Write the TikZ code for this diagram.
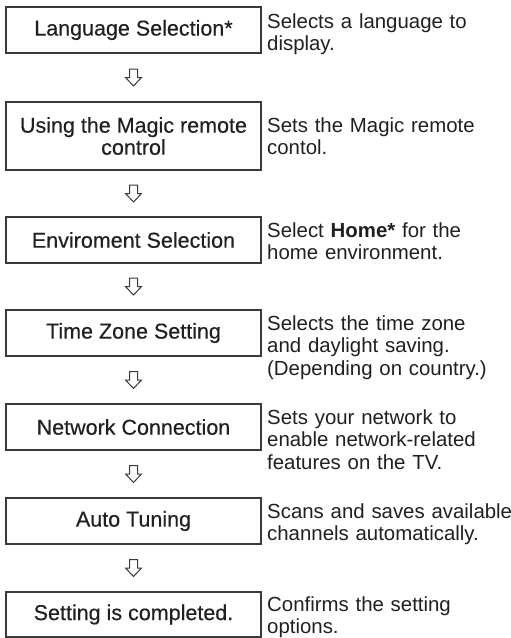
\documentclass[tikz,border=0pt]{standalone}
\usepackage{fontspec}
\setmainfont{Liberation Sans}
\newfontfamily\stepfont[FakeBold=0.35]{Liberation Sans}
\usetikzlibrary{calc}
\definecolor{boxgray}{HTML}{3A3A3A}
\definecolor{textgray}{HTML}{231F20}
\begin{document}
\begin{tikzpicture}[x=1pt,y=-1pt,
  stepbox/.style={draw=boxgray, line width=1.3pt, minimum width=255pt, minimum height=46pt,
    inner sep=0pt, align=center, font=\stepfont\fontsize{21.5}{22}\selectfont, text=textgray},
  desc/.style={anchor=base west, inner sep=0pt, text width=250pt, align=left,
    font=\fontsize{20.4}{22.5}\selectfont, text=textgray},
  arrline/.style={draw=boxgray, line width=1pt, line join=miter, fill=white},
  downarr/.pic={\path[arrline] (-4,-8.5) -- (4,-8.5) -- (4,0) -- (8,0) -- (0,8.5) -- (-8,0) -- (-4,0) -- cycle;}
]
\useasboundingbox[fill=white] (0,0) rectangle (511,638);

\node[stepbox] (b1) at (133.5,30) {Language Selection*};
\node[stepbox, minimum height=68pt] (b2) at (133.5,136) {Using the Magic remote\\control};
\node[stepbox] (b3) at (133.5,240) {Enviroment Selection};
\node[stepbox] (b4) at (133.5,333) {Time Zone Setting};
\node[stepbox] (b5) at (133.5,427) {Network Connection};
\node[stepbox] (b6) at (133.5,521) {Auto Tuning};
\node[stepbox, minimum height=45pt] (b7) at (133.5,614.5) {Setting is completed.};

\node[desc] (d1) at (267,28) {Selects a language to\\display.};
\node[desc] (d2) at (267,132) {Sets the Magic remote\\contol.};
\node[desc] (d3) at (267,237) {Select \textbf{Home*} for the\\home environment.};
\node[desc] (d4) at (267,330) {Selects the time zone\\and daylight saving.\\(Depending on country.)};
\node[desc] (d5) at (267,424) {Sets your network to\\enable network-related\\features on the TV.};
\node[desc] (d6) at (267,518) {Scans and saves available\\channels automatically.};
\node[desc] (d7) at (267,611) {Confirms the setting\\options.};

\foreach \a/\b in {b1/b2,b2/b3,b3/b4,b4/b5,b5/b6,b6/b7}{
  \coordinate (m\a) at ($(\a.south)!0.5!(\b.north)$);
  \pic at (m\a) {downarr};
}
\end{tikzpicture}
\end{document}
